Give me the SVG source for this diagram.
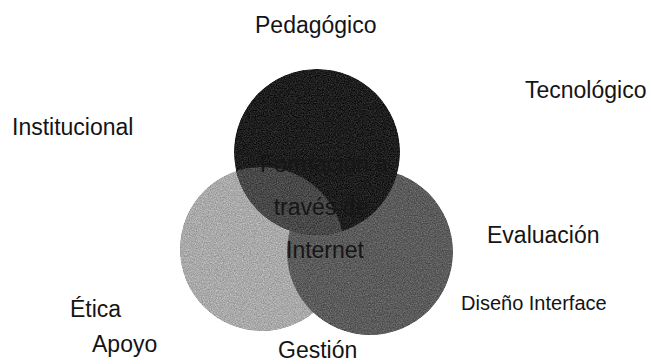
<svg xmlns="http://www.w3.org/2000/svg" width="651" height="364" viewBox="0 0 651 364">
  <style>
    .lbl { font-family: "Liberation Sans", Arial, sans-serif; font-size: 23px; fill: #141414; }
    .small { font-size: 20px; }
    .core { font-family: "Liberation Sans", Arial, sans-serif; font-size: 23px; fill: #161616; text-anchor: middle; }
  </style>
  <defs>
    <clipPath id="clip-top">
      <circle cx="317" cy="152" r="83"/>
    </clipPath>
    <!-- fine print grain inside the filled discs -->
    <filter id="grain" x="0" y="0" width="100%" height="100%" color-interpolation-filters="sRGB">
      <feTurbulence type="fractalNoise" baseFrequency="0.85" numOctaves="2" seed="7" result="noise"/>
      <feColorMatrix in="noise" type="matrix" values="1 0 0 0 0  1 0 0 0 0  1 0 0 0 0  0 0 0 0 1" result="gray"/>
      <feComposite in="gray" in2="SourceGraphic" operator="arithmetic" k1="0" k2="0.35" k3="1" k4="-0.17" result="mixed"/>
      <feComposite in="mixed" in2="SourceGraphic" operator="in"/>
    </filter>
  </defs>

  <rect width="651" height="364" fill="#ffffff"/>

  <!-- three overlapping circles -->
  <g filter="url(#grain)">
    <g id="circle-left">
      <circle cx="262" cy="249" r="82" fill="#a8a8a8"/>
    </g>
    <g id="circle-right">
      <circle cx="370" cy="252" r="83" fill="#5a5a5a"/>
    </g>
    <g id="circle-top">
      <circle cx="317" cy="152" r="83" fill="#1c1c1c"/>
      <!-- overlap of top and left circles -->
      <circle cx="262" cy="249" r="82" fill="#474747" clip-path="url(#clip-top)"/>
    </g>
  </g>

  <!-- central text -->
  <g id="center-text">
    <text class="core" x="324" y="172">Formación a</text>
    <text class="core" x="321" y="215">través de</text>
    <text class="core" x="325" y="258">Internet</text>
  </g>

  <!-- surrounding labels -->
  <g id="labels">
    <text class="lbl" x="255" y="33">Pedagógico</text>
    <text class="lbl" x="525" y="98">Tecnológico</text>
    <text class="lbl" x="12" y="135">Institucional</text>
    <text class="lbl" x="487" y="243">Evaluación</text>
    <text class="lbl small" x="461" y="310">Diseño Interface</text>
    <text class="lbl" x="70" y="317">Ética</text>
    <text class="lbl" x="92" y="352">Apoyo</text>
    <text class="lbl" x="278" y="358">Gestión</text>
  </g>
</svg>
